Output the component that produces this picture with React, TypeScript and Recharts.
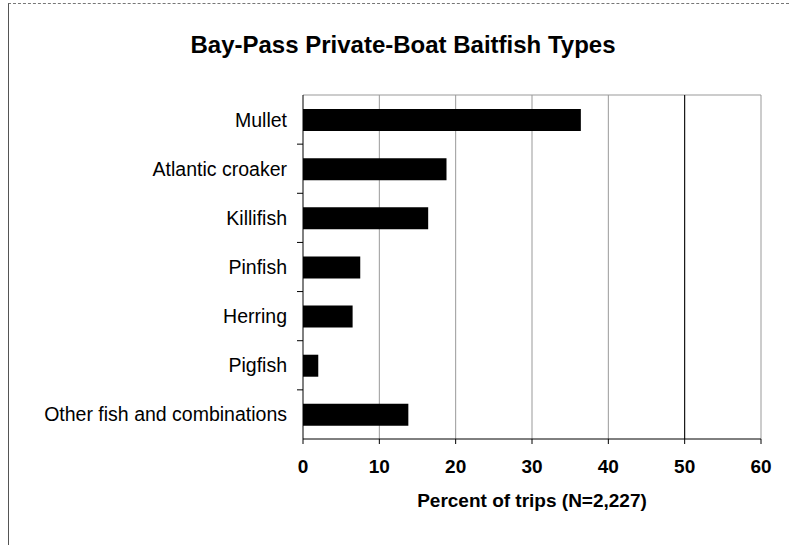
import React from "react";
import { BarChart, Bar, XAxis, YAxis, CartesianGrid, ReferenceLine } from "recharts";

const categories = [
  "Mullet",
  "Atlantic croaker",
  "Killifish",
  "Pinfish",
  "Herring",
  "Pigfish",
  "Other fish and combinations",
];
const percents = [36.4, 18.8, 16.4, 7.5, 6.5, 2.0, 13.8];
const xTicks = [0, 10, 20, 30, 40, 50, 60];
const title = "Bay-Pass Private-Boat Baitfish Types";
const xTitle = "Percent of trips (N=2,227)";

const data = categories.map((name, i) => ({ name, value: percents[i] }));

const FONT = "'Liberation Sans', Arial, Helvetica, sans-serif";

const CatTick = (props: any) => {
  const { x, y, payload, index, visibleTicksCount } = props;
  const off = payload.offset || 0;
  const axisRight = x + 16;
  return (
    <g>
      <text
        x={x}
        y={y}
        textAnchor="end"
        dominantBaseline="central"
        fontFamily={FONT}
        fontSize={19.5}
        fill="#000"
      >
        {payload.value}
      </text>
      {index > 0 && (
        <line x1={axisRight - 6} x2={axisRight} y1={y - off} y2={y - off} stroke="#000" />
      )}
    </g>
  );
};

export default function App() {
  return (
    <div style={{ position: "absolute", left: 0, top: 0, width: 791, height: 545, background: "#fff" }}>
      <div
        style={{
          position: "absolute",
          left: 8,
          top: 3,
          width: 780,
          height: 542,
          borderTop: "1px dashed #777",
          borderLeft: "1px solid #555",
        }}
      />
      <div
        style={{
          position: "absolute",
          left: 0,
          width: 806,
          top: 30,
          textAlign: "center",
          fontFamily: FONT,
          fontWeight: "bold",
          fontSize: 24,
          lineHeight: "30px",
          color: "#000",
        }}
      >
        {title}
      </div>
      <BarChart
        width={791}
        height={545}
        data={data}
        layout="vertical"
        margin={{ top: 95, right: 30, left: 0, bottom: 26 }}
        style={{ position: "absolute", left: 0, top: 0 }}
      >
        <CartesianGrid
          stroke="#999"
          vertical={true}
          horizontal={true}
          verticalCoordinatesGenerator={(p: any) => {
            const { offset } = p;
            return xTicks.slice(1).map((t) => offset.left + (offset.width * t) / 60);
          }}
          horizontalCoordinatesGenerator={(p: any) => [p.offset.top]}
        />
        <XAxis
          type="number"
          domain={[0, 60]}
          ticks={xTicks}
          tickSize={5}
          tickMargin={16}
          height={80}
          axisLine={{ stroke: "#000" }}
          tickLine={{ stroke: "#000" }}
          tick={{ fontFamily: FONT, fontSize: 19, fontWeight: "bold", fill: "#000" }}
          label={{
            value: xTitle,
            position: "insideBottom",
            offset: 12,
            style: { fontFamily: FONT, fontSize: 19, fontWeight: "bold", fill: "#000" },
          }}
        />
        <YAxis
          type="category"
          dataKey="name"
          width={303}
          tickSize={6}
          tickMargin={10}
          tickLine={false}
          axisLine={{ stroke: "#000" }}
          tick={<CatTick />}
          interval={0}
        />
        <ReferenceLine x={50} stroke="#000" />
        <Bar dataKey="value" fill="#000" barSize={22} isAnimationActive={false} />
      </BarChart>
    </div>
  );
}
